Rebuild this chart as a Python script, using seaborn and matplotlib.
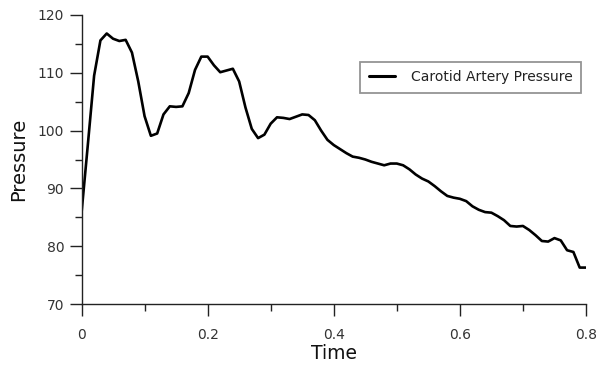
import numpy as np
import pandas as pd
import matplotlib
matplotlib.use("Agg")
import matplotlib.pyplot as plt
from matplotlib.ticker import MultipleLocator
import seaborn as sns

# Carotid artery pressure over one cardiac cycle, sampled every 10 ms
time = [0.00, 0.01, 0.02, 0.03, 0.04, 0.05, 0.06, 0.07, 0.08, 0.09,
        0.10, 0.11, 0.12, 0.13, 0.14, 0.15, 0.16, 0.17, 0.18, 0.19,
        0.20, 0.21, 0.22, 0.23, 0.24, 0.25, 0.26, 0.27, 0.28, 0.29,
        0.30, 0.31, 0.32, 0.33, 0.34, 0.35, 0.36, 0.37, 0.38, 0.39,
        0.40, 0.41, 0.42, 0.43, 0.44, 0.45, 0.46, 0.47, 0.48, 0.49,
        0.50, 0.51, 0.52, 0.53, 0.54, 0.55, 0.56, 0.57, 0.58, 0.59,
        0.60, 0.61, 0.62, 0.63, 0.64, 0.65, 0.66, 0.67, 0.68, 0.69,
        0.70, 0.71, 0.72, 0.73, 0.74, 0.75, 0.76, 0.77, 0.78, 0.79,
        0.80]
pressure = [85.7, 97.5, 109.5, 115.6, 116.8, 115.9, 115.5, 115.7, 113.5, 108.5,
            102.5, 99.1, 99.5, 102.8, 104.2, 104.1, 104.2, 106.5, 110.5, 112.8,
            112.8, 111.3, 110.1, 110.4, 110.7, 108.5, 104.0, 100.3, 98.7, 99.3,
            101.2, 102.3, 102.2, 102.0, 102.4, 102.8, 102.7, 101.8, 100.0, 98.4,
            97.5, 96.8, 96.1, 95.5, 95.3, 95.0, 94.6, 94.3, 94.0, 94.3,
            94.3, 94.0, 93.3, 92.4, 91.7, 91.2, 90.4, 89.5, 88.7, 88.4,
            88.2, 87.8, 86.9, 86.3, 85.9, 85.8, 85.2, 84.5, 83.5, 83.4,
            83.5, 82.8, 81.9, 80.9, 80.8, 81.4, 81.0, 79.3, 79.0, 76.3,
            76.3]
series_name = "Carotid Artery Pressure"
x_ticks = [0, 0.2, 0.4, 0.6, 0.8]
x_tick_labels = ["0", "0.2", "0.4", "0.6", "0.8"]
y_ticks = [70, 80, 90, 100, 110, 120]

df = pd.DataFrame({"Time": time, "Pressure": pressure, "Series": series_name})

sns.set_theme(style="white")
plt.rcParams["font.family"] = ["DejaVu Sans"]

fig = plt.figure(figsize=(5.97, 3.67), dpi=100)
ax = fig.add_axes([81.5 / 597, 1 - 304 / 367, (586 - 81.5) / 597, (304 - 15) / 367])

sns.lineplot(data=df, x="Time", y="Pressure", hue="Series",
             palette=["black"], linewidth=1.9, ax=ax)

ax.set_xlim(0, 0.8)
ax.set_ylim(70, 120)
ax.set_xticks(x_ticks)
ax.set_xticklabels(x_tick_labels)
ax.set_yticks(y_ticks)
ax.xaxis.set_minor_locator(MultipleLocator(0.1))
ax.yaxis.set_minor_locator(MultipleLocator(5))

for side in ("top", "right"):
    ax.spines[side].set_visible(False)
for side in ("left", "bottom"):
    ax.spines[side].set_color("#222222")
    ax.spines[side].set_linewidth(1.0)

ax.tick_params(axis="both", which="both", bottom=True, left=True,
               top=False, right=False)
ax.tick_params(axis="both", which="major", direction="out", length=8.5, width=1.0,
               color="#222222", labelsize=10, labelcolor="#333333")
ax.tick_params(axis="both", which="minor", direction="out", length=5, width=1.0,
               color="#222222")
ax.tick_params(axis="x", which="major", pad=8.5)
ax.tick_params(axis="y", which="major", pad=4)

ax.set_xlabel("Time", fontsize=13.5, color="#111111", labelpad=1.5)
ax.set_ylabel("Pressure", fontsize=14, color="#111111", labelpad=6.5)

leg = ax.legend(loc="upper left", bbox_to_anchor=(0.5527, 0.8384),
                borderaxespad=0, fontsize=10, frameon=True, fancybox=False,
                handlelength=1.9, handletextpad=1.1, borderpad=0.62)
leg.get_frame().set_edgecolor("#7a7a7a")
leg.get_frame().set_linewidth(1.3)
for line in leg.get_lines():
    line.set_linewidth(2.2)
for txt in leg.get_texts():
    txt.set_color("#222222")

fig.savefig("out.png", dpi=100)
